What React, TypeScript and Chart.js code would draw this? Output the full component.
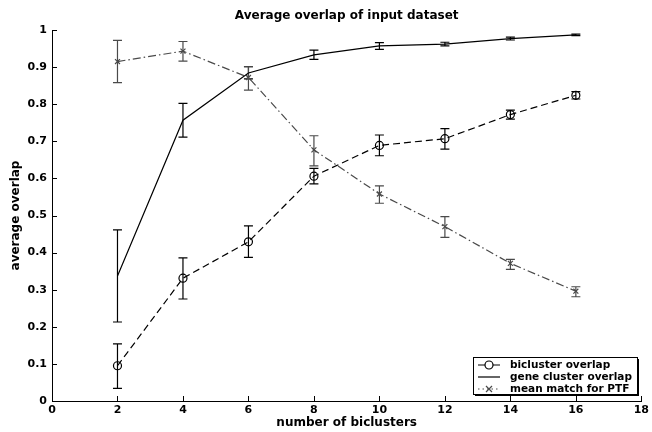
import React, { useEffect, useRef } from "react";
import { Chart, registerables } from "chart.js";

Chart.register(...registerables);

const xValues = [2, 4, 6, 8, 10, 12, 14, 16];

const biclusterMean = [0.095, 0.331, 0.429, 0.606, 0.689, 0.707, 0.772, 0.824];
const biclusterLow = [0.034, 0.275, 0.387, 0.585, 0.661, 0.679, 0.760, 0.814];
const biclusterHigh = [0.154, 0.386, 0.472, 0.627, 0.717, 0.734, 0.784, 0.834];

const geneMean = [0.337, 0.757, 0.884, 0.933, 0.957, 0.962, 0.977, 0.987];
const geneLow = [0.213, 0.711, 0.868, 0.921, 0.948, 0.957, 0.973, 0.985];
const geneHigh = [0.461, 0.802, 0.901, 0.946, 0.966, 0.967, 0.981, 0.989];

const ptfMean = [0.915, 0.943, 0.872, 0.677, 0.558, 0.470, 0.371, 0.296];
const ptfLow = [0.858, 0.916, 0.838, 0.634, 0.533, 0.441, 0.355, 0.281];
const ptfHigh = [0.972, 0.969, 0.901, 0.715, 0.580, 0.497, 0.382, 0.308];

const seriesNames = ["bicluster overlap", "gene cluster overlap", "mean match for PTF"];
const yTickLabels = ["0", "0.1", "0.2", "0.3", "0.4", "0.5", "0.6", "0.7", "0.8", "0.9", "1"];
const xTickLabels = ["0", "2", "4", "6", "8", "10", "12", "14", "16", "18"];

const chartTitle = "Average overlap of input dataset";
const xTitle = "number of biclusters";
const yTitle = "average overlap";

const FONT = "'DejaVu Sans', 'Liberation Sans', Arial, sans-serif";
const PTF_COLOR = "#4a4a4a";

const errorSeries = [
  { lo: biclusterLow, hi: biclusterHigh, color: "#000000" },
  { lo: geneLow, hi: geneHigh, color: "#000000" },
  { lo: ptfLow, hi: ptfHigh, color: PTF_COLOR },
];

const customPlugin = {
  id: "customDraw",
  beforeDatasetsDraw(chart: any) {
    const ctx = chart.ctx;
    const xs = chart.scales.x;
    const ys = chart.scales.y;
    ctx.save();
    errorSeries.forEach((s) => {
      ctx.strokeStyle = s.color;
      ctx.lineWidth = 1.2;
      ctx.setLineDash([]);
      xValues.forEach((xv, i) => {
        const px = xs.getPixelForValue(xv);
        const pl = ys.getPixelForValue(s.lo[i]);
        const ph = ys.getPixelForValue(s.hi[i]);
        ctx.beginPath();
        ctx.moveTo(px, pl);
        ctx.lineTo(px, ph);
        ctx.moveTo(px - 4.5, pl);
        ctx.lineTo(px + 4.5, pl);
        ctx.moveTo(px - 4.5, ph);
        ctx.lineTo(px + 4.5, ph);
        ctx.stroke();
      });
    });
    ctx.restore();
  },
  afterDraw(chart: any) {
    const ctx = chart.ctx;
    const xs = chart.scales.x;
    const ys = chart.scales.y;
    const area = chart.chartArea;
    ctx.save();
    // inward ticks
    ctx.strokeStyle = "#000";
    ctx.lineWidth = 1;
    ctx.setLineDash([]);
    xs.ticks.forEach((t: any) => {
      const px = Math.round(xs.getPixelForValue(t.value)) + 0.5;
      ctx.beginPath();
      ctx.moveTo(px, area.bottom);
      ctx.lineTo(px, area.bottom - 5);
      ctx.stroke();
    });
    ys.ticks.forEach((t: any) => {
      const py = Math.round(ys.getPixelForValue(t.value)) + 0.5;
      ctx.beginPath();
      ctx.moveTo(area.left, py);
      ctx.lineTo(area.left + 5, py);
      ctx.stroke();
    });

    // titles
    ctx.fillStyle = "#000";
    ctx.font = `bold 12px ${FONT}`;
    ctx.textAlign = "center";
    ctx.textBaseline = "middle";
    const cx = (area.left + area.right) / 2;
    ctx.fillText(chartTitle, cx, 16);
    ctx.fillText(xTitle, cx, 423);
    ctx.save();
    ctx.translate(15.5, (area.top + area.bottom) / 2);
    ctx.rotate(-Math.PI / 2);
    ctx.fillText(yTitle, 0, 0);
    ctx.restore();

    // legend
    const lx = 473, ly = 357, lw = 164, lh = 37;
    ctx.fillStyle = "#000";
    ctx.fillRect(lx + 2, ly + 2, lw, lh);
    ctx.fillStyle = "#fff";
    ctx.fillRect(lx, ly, lw, lh);
    ctx.strokeStyle = "#000";
    ctx.lineWidth = 1;
    ctx.strokeRect(lx + 0.5, ly + 0.5, lw, lh);

    const rows = [365, 377, 389];
    const sx0 = 478, sx1 = 500, smid = 489;
    ctx.font = `bold 10.5px ${FONT}`;
    ctx.textAlign = "left";
    ctx.textBaseline = "middle";
    // row 1: bicluster
    ctx.strokeStyle = "#000";
    ctx.lineWidth = 1.2;
    ctx.setLineDash([]);
    ctx.beginPath();
    ctx.moveTo(sx0, rows[0]);
    ctx.lineTo(smid - 4, rows[0]);
    ctx.moveTo(smid + 4, rows[0]);
    ctx.lineTo(sx1, rows[0]);
    ctx.stroke();
    ctx.beginPath();
    ctx.arc(smid, rows[0], 4, 0, Math.PI * 2);
    ctx.stroke();
    // row 2: gene
    ctx.beginPath();
    ctx.moveTo(sx0, rows[1]);
    ctx.lineTo(sx1, rows[1]);
    ctx.stroke();
    // row 3: PTF
    ctx.strokeStyle = PTF_COLOR;
    ctx.setLineDash([1.5, 3]);
    ctx.beginPath();
    ctx.moveTo(sx0, rows[2]);
    ctx.lineTo(sx1, rows[2]);
    ctx.stroke();
    ctx.setLineDash([]);
    ctx.beginPath();
    ctx.moveTo(smid - 3, rows[2] - 3);
    ctx.lineTo(smid + 3, rows[2] + 3);
    ctx.moveTo(smid - 3, rows[2] + 3);
    ctx.lineTo(smid + 3, rows[2] - 3);
    ctx.stroke();

    ctx.fillStyle = "#000";
    seriesNames.forEach((n, i) => {
      ctx.fillText(n, 510, rows[i]);
    });
    ctx.restore();
  },
};

export default function App() {
  const ref = useRef<HTMLCanvasElement | null>(null);

  useEffect(() => {
    document.body.style.margin = "0";
    const canvas = ref.current;
    if (!canvas) return;
    const toPts = (ys: number[]) => xValues.map((x, i) => ({ x, y: ys[i] }));
    const chart = new Chart(canvas, {
      type: "line",
      data: {
        datasets: [
          {
            label: seriesNames[0],
            data: toPts(biclusterMean),
            borderColor: "#000",
            borderWidth: 1.2,
            borderDash: [7, 4],
            pointStyle: "circle",
            pointRadius: 4,
            pointBorderWidth: 1.2,
            pointBorderColor: "#000",
            pointBackgroundColor: "rgba(0,0,0,0)",
            fill: false,
            tension: 0,
          },
          {
            label: seriesNames[1],
            data: toPts(geneMean),
            borderColor: "#000",
            borderWidth: 1.2,
            pointRadius: 0,
            fill: false,
            tension: 0,
          },
          {
            label: seriesNames[2],
            data: toPts(ptfMean),
            borderColor: PTF_COLOR,
            borderWidth: 1.2,
            borderDash: [8, 3, 1.5, 3],
            pointStyle: "crossRot",
            pointRadius: 3.5,
            pointBorderWidth: 1.2,
            pointBorderColor: PTF_COLOR,
            fill: false,
            tension: 0,
          },
        ],
      },
      options: {
        animation: false,
        responsive: false,
        devicePixelRatio: 1,
        layout: { padding: { top: 30, right: 9, left: 0, bottom: 0 } },
        plugins: {
          legend: { display: false },
          title: { display: false },
          tooltip: { enabled: false },
        },
        scales: {
          x: {
            type: "linear",
            min: 0,
            max: 18,
            afterFit: (s: any) => {
              s.height = 31;
            },
            ticks: {
              stepSize: 2,
              padding: 3,
              color: "#000",
              font: { family: FONT, size: 11, weight: "bold" },
              callback: (_v: any, i: number) => xTickLabels[i],
              maxRotation: 0,
              autoSkip: false,
            },
            grid: { display: true, drawOnChartArea: false, drawTicks: false, tickLength: 0 },
            border: { display: true, color: "#000", width: 1 },
          },
          y: {
            type: "linear",
            min: 0,
            max: 1,
            afterFit: (s: any) => {
              s.width = 52;
            },
            ticks: {
              stepSize: 0.1,
              padding: 5,
              color: "#000",
              font: { family: FONT, size: 11, weight: "bold" },
              callback: (_v: any, i: number) => yTickLabels[i],
              autoSkip: false,
            },
            grid: { display: true, drawOnChartArea: false, drawTicks: false, tickLength: 0 },
            border: { display: true, color: "#000", width: 1 },
          },
        },
      } as any,
      plugins: [customPlugin],
    });
    return () => chart.destroy();
  }, []);

  return (
    <div style={{ width: 652, height: 432, background: "#fff" }}>
      <canvas ref={ref} width={652} height={432} style={{ display: "block" }} />
    </div>
  );
}
